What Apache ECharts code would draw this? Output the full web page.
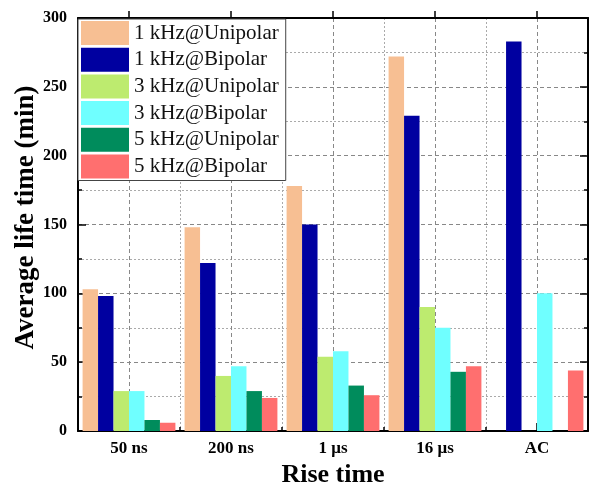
<!DOCTYPE html>
<html>
<head>
<meta charset="utf-8">
<script src="https://cdn.jsdelivr.net/npm/echarts@6/dist/echarts.min.js"></script>
<style>
  html, body { margin: 0; padding: 0; background: #fff; }
  #main { width: 593px; height: 483px; }
</style>
</head>
<body>
<div id="main"></div>
<script>
// data
var riseTimes = ['50 ns', '200 ns', '1 \u03bcs', '16 \u03bcs', 'AC'];
var seriesNames = ['1 kHz@Unipolar', '1 kHz@Bipolar', '3 kHz@Unipolar', '3 kHz@Bipolar', '5 kHz@Unipolar', '5 kHz@Bipolar'];
var uni1k = [103, 148, 178, 272, '-'];
var bi1k  = [98, 122, 150, 229, 283];
var uni3k = [29, 40, 54, 90, '-'];
var bi3k  = [29, 47, 58, 75, 100];
var uni5k = [8, 29, 33, 43, '-'];
var bi5k  = [6, 24, 26, 47, 44];
var yTicks = [0, 50, 100, 150, 200, 250, 300];

var colors = ['#F7BF93', '#0000A0', '#BDEB6F', '#6FFFFF', '#008C5C', '#FF6F6F'];
var font = 'Liberation Serif';

var myChart = echarts.init(document.getElementById('main'), null, { renderer: 'canvas' });

var allData = [uni1k, bi1k, uni3k, bi3k, uni5k, bi5k];
var series = [];
for (var i = 0; i < seriesNames.length; i++) {
    series.push({
        name: seriesNames[i],
        type: 'bar',
        xAxisIndex: 0,
        yAxisIndex: 0,
        data: allData[i],
        barGap: '0%',
        barCategoryGap: '9%',
        itemStyle: { color: colors[i] }
    });
}

var option = {
    animation: false,
    backgroundColor: '#fff',
    color: colors,
    grid: { left: 78, right: 5, top: 18, bottom: 52, containLabel: false, outerBoundsMode: 'none' },
    legend: {
        orient: 'vertical',
        left: 78,
        top: 19,
        padding: [2, 7, 2, 3],
        itemGap: 2.7,
        itemWidth: 48,
        itemHeight: 24,
        itemStyle: { borderWidth: 0 },
        icon: 'rect',
        backgroundColor: '#fff',
        borderColor: '#444',
        borderWidth: 1,
        textStyle: { fontFamily: font, fontSize: 21, color: '#111' },
        data: seriesNames
    },
    xAxis: [
        {
            // category axis carrying the bars and labels
            type: 'category',
            position: 'bottom',
            data: riseTimes,
            name: 'Rise time',
            nameLocation: 'middle',
            nameGap: 25,
            nameTextStyle: { fontFamily: font, fontSize: 26, fontWeight: 'bold', color: '#000' },
            axisLine: { onZero: false, lineStyle: { color: '#000', width: 2 } },
            axisTick: { show: true, inside: true, alignWithLabel: true, length: 8, lineStyle: { color: '#000', width: 1.5 } },
            axisLabel: { margin: 9, fontFamily: font, fontSize: 17, fontWeight: 'bold', color: '#000' },
            splitLine: { show: false }
        },
        {
            // helper axis for vertical grid lines and boundary ticks
            type: 'value',
            position: 'bottom',
            min: 0, max: 5, interval: 1,
            axisLine: { show: false, onZero: false },
            axisLabel: { show: false },
            axisTick: { show: true, inside: true, length: 4, lineStyle: { color: '#000', width: 1.5 } },
            minorTick: { show: false, splitNumber: 2 },
            splitLine: { show: true, lineStyle: { color: '#aaa', type: [2, 2], width: 1 } },
            minorSplitLine: { show: true, lineStyle: { color: '#888', type: [4, 3], width: 1 } }
        },
        {
            // top frame
            type: 'value',
            position: 'top',
            min: 0, max: 5, interval: 1,
            axisLine: { show: true, onZero: false, lineStyle: { color: '#000', width: 2 } },
            axisLabel: { show: false },
            axisTick: { show: false },
            minorTick: { show: true, splitNumber: 2, length: 7, lineStyle: { color: '#000', width: 1.5 } },
            splitLine: { show: false },
            minorSplitLine: { show: false }
        }
    ],
    yAxis: [
        {
            type: 'value',
            position: 'left',
            min: yTicks[0], max: yTicks[yTicks.length - 1], interval: 50,
            name: 'Average life time (min)',
            nameLocation: 'middle',
            nameGap: 38,
            nameMoveOverlap: false,
            nameTextStyle: { fontFamily: font, fontSize: 27, fontWeight: 'bold', color: '#000', padding: [0, 0, 0, 14] },
            axisLine: { show: true, onZero: false, lineStyle: { color: '#000', width: 2 } },
            axisTick: { show: true, inside: true, length: 8, lineStyle: { color: '#000', width: 1.5 } },
            minorTick: { show: true, splitNumber: 2, length: 4, lineStyle: { color: '#000', width: 1.5 } },
            axisLabel: { margin: 11, fontFamily: font, fontSize: 16, fontWeight: 'bold', color: '#000' },
            splitLine: { show: true, lineStyle: { color: '#888', type: [4, 3], width: 1 } },
            minorSplitLine: { show: true, lineStyle: { color: '#aaa', type: [2, 2], width: 1 } }
        },
        {
            type: 'value',
            position: 'right',
            min: yTicks[0], max: yTicks[yTicks.length - 1], interval: 50,
            axisLine: { show: true, onZero: false, lineStyle: { color: '#000', width: 2 } },
            axisTick: { show: true, inside: true, length: 8, lineStyle: { color: '#000', width: 1.5 } },
            minorTick: { show: true, splitNumber: 2, length: 4, lineStyle: { color: '#000', width: 1.5 } },
            axisLabel: { show: false },
            splitLine: { show: false },
            minorSplitLine: { show: false }
        }
    ],
    series: series
};

myChart.setOption(option);
</script>
</body>
</html>
